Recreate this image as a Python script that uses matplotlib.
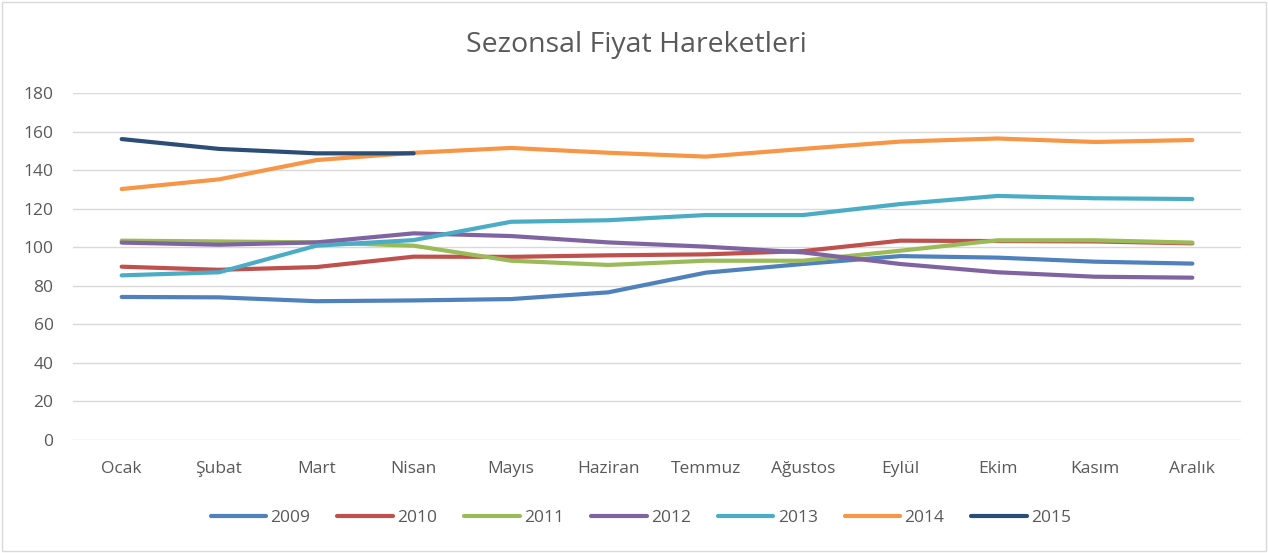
import matplotlib
matplotlib.use("Agg")
import matplotlib.pyplot as plt
from matplotlib.patches import Rectangle

plt.rcParams['font.family'] = ['Open Sans', 'DejaVu Sans']

months = ["Ocak", "Şubat", "Mart", "Nisan", "Mayıs", "Haziran", "Temmuz",
          "Ağustos", "Eylül", "Ekim", "Kasım", "Aralık"]

s2009 = [74.2, 74.0, 72.0, 72.4, 73.1, 76.6, 86.8, 91.3, 95.4, 94.6, 92.5, 91.5]
s2010 = [89.9, 88.3, 89.7, 95.1, 95.0, 95.8, 96.3, 98.0, 103.4, 103.2, 103.0, 102.0]
s2011 = [103.4, 103.0, 102.5, 100.8, 93.0, 90.8, 93.0, 93.0, 98.2, 103.6, 103.6, 102.4]
s2012 = [102.4, 101.3, 102.5, 107.2, 105.8, 102.5, 100.3, 97.3, 91.3, 87.0, 84.7, 84.2]
s2013 = [85.4, 87.0, 100.8, 103.7, 113.2, 114.0, 116.7, 116.7, 122.4, 126.6, 125.4, 125.0]
s2014 = [130.2, 135.2, 145.2, 149.0, 151.5, 149.0, 147.0, 151.0, 154.8, 156.4, 154.6, 155.6]
s2015 = [156.1, 151.0, 148.7, 148.7]

series = [("2009", s2009, "#4F81BD"), ("2010", s2010, "#C0504D"),
          ("2011", s2011, "#9BBB59"), ("2012", s2012, "#8064A2"),
          ("2013", s2013, "#4BACC6"), ("2014", s2014, "#F79646"),
          ("2015", s2015, "#2C4D75")]

yticks = list(range(0, 181, 20))

fig = plt.figure(figsize=(12.68, 5.53), dpi=100)
ax = fig.add_axes([73/1268, 1-440/553, (1241-73)/1268, (440-93)/553])

x = list(range(len(months)))
for name, vals, col in series:
    ax.plot(x[:len(vals)], vals, color=col, lw=3.0, label=name,
            solid_capstyle='round', solid_joinstyle='round')

ax.set_xlim(-0.5, len(months) - 0.5)
ax.set_ylim(0, 180)
ax.set_yticks(yticks)
ax.set_xticks(x)
ax.set_xticklabels(months)
ax.tick_params(axis='both', length=0, labelsize=12.5, colors="#595959")
ax.tick_params(axis='y', pad=14)
ax.tick_params(axis='x', pad=15)
ax.grid(axis='y', color="#D9D9D9", lw=1)
ax.set_axisbelow(True)
for sp in ax.spines.values():
    sp.set_visible(False)

fig.text(636/1268, 1-45/553, "Sezonsal Fiyat Hareketleri", ha='center', va='center',
         fontsize=20.5, color="#595959")

leg = fig.legend(loc='center', bbox_to_anchor=(641/1268, 1-518/553), ncol=7,
                 frameon=False, fontsize=12.5, handlelength=3.2, columnspacing=1.55,
                 handletextpad=0.25)
for t in leg.get_texts():
    t.set_color("#595959")

fig.patches.append(Rectangle((2/1268, 2/553), 1-4/1268, 1-4/553, transform=fig.transFigure,
                             fill=False, edgecolor="#D9D9D9", lw=1))

fig.savefig("out.png", dpi=100, facecolor="white")
